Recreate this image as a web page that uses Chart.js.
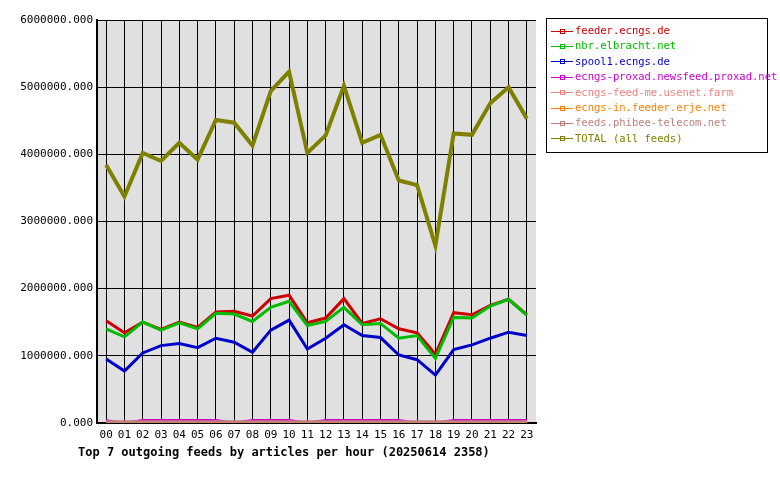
<!DOCTYPE html>
<html><head><meta charset="utf-8">
<script src="https://cdn.jsdelivr.net/npm/chart.js@4/dist/chart.umd.min.js"></script>
<style>
body{margin:0;background:#fff;font-family:"DejaVu Sans Mono",monospace;}
#wrap{position:relative;width:780px;height:480px;}
#legend{position:absolute;left:546px;top:18px;width:222px;border:1px solid #000;padding:4px 0 6px 4px;box-sizing:border-box;font-size:10.5px;line-height:15.4px;background:#fff;white-space:nowrap;}
#legend .k{display:inline-block;width:22px;height:7px;vertical-align:middle;position:relative;margin-right:2px;}
#legend .k i{position:absolute;left:0;right:0;top:3px;height:1px;}
#legend .k b{position:absolute;left:9px;top:1px;width:3px;height:3px;border:1px solid;}
#title{position:absolute;left:78px;top:445px;font-size:12px;font-weight:bold;}
</style></head><body>
<div id="wrap"><canvas id="c" width="780" height="480"></canvas>
<div id="legend"></div>
<div id="title">Top 7 outgoing feeds by articles per hour (20250614 2358)</div></div>
<script>
const hours = ['00','01','02','03','04','05','06','07','08','09','10','11','12','13','14','15','16','17','18','19','20','21','22','23'];
const feederEcngs = [1520,1340,1500,1390,1500,1420,1650,1660,1590,1850,1900,1490,1560,1850,1480,1550,1400,1340,1020,1640,1610,1750,1840,1610].map(v => v * 1000);
const nbrElbracht = [1400,1280,1500,1380,1490,1400,1630,1620,1510,1720,1810,1450,1510,1720,1460,1480,1260,1300,960,1570,1560,1740,1840,1600].map(v => v * 1000);
const spool1 = [950,770,1040,1150,1180,1120,1260,1200,1050,1380,1530,1100,1260,1460,1300,1270,1010,940,710,1090,1160,1260,1350,1300].map(v => v * 1000);
const proxad = [40,0,40,40,40,40,40,0,40,40,40,0,40,40,40,40,40,0,0,40,40,40,40,40].map(v => v * 1000);
const feedMe = [5,5,5,5,5,5,5,5,5,5,5,5,5,5,5,5,5,5,5,5,5,5,5,5].map(v => v * 1000);
const ernje = [3,3,3,3,3,3,3,3,3,3,3,3,3,3,3,3,3,3,3,3,3,3,3,3].map(v => v * 1000);
const phibee = [8,8,8,8,8,8,8,8,8,8,8,8,8,8,8,8,8,8,8,8,8,8,8,8].map(v => v * 1000);
const total = [3840,3370,4020,3900,4170,3920,4510,4470,4130,4940,5230,4020,4280,5020,4170,4290,3610,3540,2640,4310,4290,4760,5000,4530].map(v => v * 1000);

const series = [
  { label: 'feeder.ecngs.de', data: feederEcngs, color: '#cc0000', w: 3 },
  { label: 'nbr.elbracht.net', data: nbrElbracht, color: '#00bb00', w: 3 },
  { label: 'spool1.ecngs.de', data: spool1, color: '#0000cc', w: 3 },
  { label: 'ecngs-proxad.newsfeed.proxad.net', data: proxad, color: '#cc00cc', w: 2 },
  { label: 'ecngs-feed-me.usenet.farm', data: feedMe, color: '#f08080', w: 2 },
  { label: 'ecngs-in.feeder.erje.net', data: ernje, color: '#ff8000', w: 2 },
  { label: 'feeds.phibee-telecom.net', data: phibee, color: '#c08080', w: 4 },
  { label: 'TOTAL (all feeds)', data: total, color: '#808000', w: 4 }
];

document.getElementById('legend').innerHTML = series.map(s =>
  `<div style="color:${s.color}"><span class="k"><i style="background:${s.color}"></i><b style="border-color:${s.color}"></b></span>${s.label}</div>`).join('');

const bgPlugin = {
  id: 'plotBg',
  beforeDraw(chart) {
    const { ctx, chartArea: a } = chart;
    ctx.save();
    ctx.fillStyle = '#e0e0e0';
    ctx.fillRect(a.left, a.top, a.right - a.left, a.bottom - a.top);
    ctx.restore();
  }
};

new Chart(document.getElementById('c'), {
  type: 'line',
  data: {
    labels: hours,
    datasets: series.map(s => ({ label: s.label, data: s.data, borderColor: s.color, borderWidth: s.w, pointRadius: 0, tension: 0 })).reverse()
  },
  options: {
    responsive: false,
    animation: false,
    layout: { padding: { left: 0, right: 244, top: 20, bottom: 32 } },
    plugins: { legend: { display: false }, tooltip: { enabled: false } },
    scales: {
      x: {
        offset: true,
        grid: { color: '#000', offset: false, drawTicks: false },
        border: { color: '#000', width: 2 },
        ticks: { color: '#000', font: { family: 'DejaVu Sans Mono', size: 11 }, maxRotation: 0, padding: 6 }
      },
      y: {
        min: 0, max: 6000000,
        grid: { color: '#000', drawTicks: false },
        border: { color: '#000', width: 2 },
        ticks: { stepSize: 1000000, color: '#000', font: { family: 'DejaVu Sans Mono', size: 11 }, padding: 4, callback: v => v.toFixed(3) },
        afterFit: s => { s.width = 97; }
      }
    }
  },
  plugins: [bgPlugin]
});
</script></body></html>
